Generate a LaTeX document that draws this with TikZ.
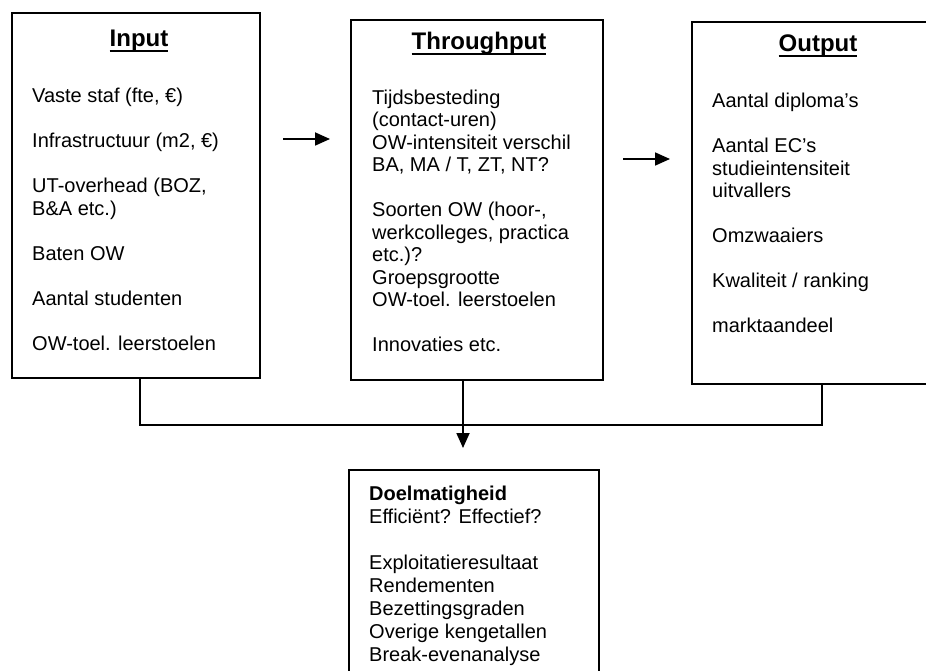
\documentclass[tikz,border=0pt]{standalone}
\usepackage{fontspec}
\setmainfont{Liberation Sans}
\usetikzlibrary{arrows.meta}
\newcommand{\ulttl}[1]{\setbox0=\hbox{#1}\rlap{\rule[-5.5pt]{\wd0}{2pt}}\box0}
\begin{document}
\begin{tikzpicture}[x=1pt,y=-1pt,
  box/.style={draw, line width=1.8pt, inner sep=0pt, outer sep=0pt, anchor=north west},
  body/.style={anchor=base west, inner sep=0pt, font=\fontsize{20}{22.5}\selectfont},
  ttl/.style={anchor=base, inner sep=0pt, font=\fontsize{24}{28}\selectfont\bfseries},
  conn/.style={line width=1.8pt},
  arr/.style={line width=1.8pt, -{Triangle[length=15pt,width=13pt]}}]
\useasboundingbox (0,0) rectangle (926,671);
\clip (0,0) rectangle (926,671);
\fill[white] (0,0) rectangle (926,671);

% boxes
\node[box, minimum width=248pt, minimum height=365pt] (inp) at (12,13) {};
\node[box, minimum width=252pt, minimum height=360pt] (thr) at (351,20) {};
\node[box, minimum width=262pt, minimum height=362pt] (outp) at (692,22) {};
\node[box, minimum width=250pt, minimum height=240pt] (doel) at (349,470) {};

% titles
\node[ttl] (tin) at (139,47) {\ulttl{Input}};
\node[ttl] (tthr) at (479,50) {\ulttl{Throughput}};
\node[ttl] (tout) at (818,52) {\ulttl{Output}};

% body texts
\node[body] (bin) at (32,103) {\parbox[t]{225pt}{\raggedright
Vaste staf (fte, €)\\[22.5pt]
Infrastructuur (m2, €)\\[22.5pt]
UT-overhead (BOZ,\\
B\&A etc.)\\[22.5pt]
Baten OW\\[22.5pt]
Aantal studenten\\[22.5pt]
OW-toel. leerstoelen}};

\node[body] (bthr) at (372,104.5) {\parbox[t]{228pt}{\raggedright
Tijdsbesteding\\
(contact-uren)\\
OW-intensiteit verschil\\
BA, MA / T, ZT, NT?\\[22.5pt]
Soorten OW (hoor-,\\
werkcolleges, practica\\
etc.)?\\
Groepsgrootte\\
OW-toel. leerstoelen\\[22.5pt]
Innovaties etc.}};

\node[body] (bout) at (712,108) {\parbox[t]{205pt}{\raggedright
Aantal diploma's\\[22.5pt]
Aantal EC's\\
studieintensiteit\\
uitvallers\\[22.5pt]
Omzwaaiers\\[22.5pt]
Kwaliteit / ranking\\[22.5pt]
marktaandeel}};

\node[body, font=\fontsize{20}{23}\selectfont] (bdoel) at (369,500.7) {\parbox[t]{225pt}{\raggedright
\textbf{Doelmatigheid}\\
Efficiënt? Effectief?\\[23pt]
Exploitatieresultaat\\
Rendementen\\
Bezettingsgraden\\
Overige kengetallen\\
Break-evenanalyse}};

% connectors
\coordinate (ja) at (140,425);
\coordinate (jb) at (822,425);
\coordinate (jd) at (463,448);
\draw[conn] (ja |- inp.south) -- (ja) -- (jb) -- (jb |- outp.south);
\draw[arr] (jd |- thr.south) -- (jd);

\coordinate (a1s) at (283,139);
\coordinate (a1e) at (330,139);
\draw[arr] (a1s) -- (a1e);
\coordinate (a2s) at (623,159);
\coordinate (a2e) at (670,159);
\draw[arr] (a2s) -- (a2e);
\end{tikzpicture}
\end{document}
